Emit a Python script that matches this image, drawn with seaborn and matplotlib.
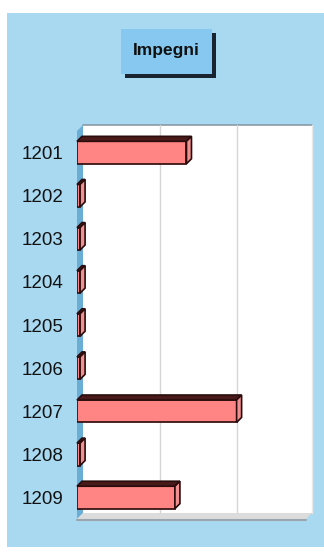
import matplotlib
matplotlib.use("Agg")
import matplotlib.pyplot as plt
from matplotlib.patches import Rectangle, Polygon
import seaborn as sns
import pandas as pd

codes = ["1201", "1202", "1203", "1204", "1205", "1206", "1207", "1208", "1209"]
impegni = [142, 4, 4, 4, 4, 4, 207, 4, 127]
title = "Impegni"

sns.set_theme(style="white")
plt.rcParams["font.family"] = ["Liberation Sans", "DejaVu Sans"]

W, H = 324, 552
fig = plt.figure(figsize=(W / 100, H / 100), dpi=100, facecolor="white")

def fx(px):
    return px / W

def fy(py):
    return 1 - py / H

# light blue panel behind everything
bg = fig.add_axes([0, 0, 1, 1], zorder=0)
bg.set_xlim(0, W)
bg.set_ylim(H, 0)
bg.axis("off")
bg.add_patch(Rectangle((7, 13), W - 7, 534, facecolor="#a9d9f1", edgecolor="none"))

# depth of the 3D effect in pixels
dx, dy = 6, 6
left, right, top, bottom = 77, 306, 131, 519

# back wall, left wall and floor
bg.add_patch(Rectangle((left + dx, top - dy), right - left, bottom - top,
                       facecolor="white", edgecolor="none"))
bg.add_patch(Polygon([(left, top), (left + dx, top - dy), (left + dx, bottom - dy),
                      (left, bottom)], closed=True, facecolor="#6aaed6", edgecolor="none"))
bg.add_patch(Polygon([(left, bottom), (left + dx, bottom - dy), (right + dx, bottom - dy),
                      (right, bottom)], closed=True, facecolor="#dcdcdc", edgecolor="none"))
bg.plot([left + dx, right + dx], [top - dy, top - dy], color="#8a9aa6", lw=1.2)
bg.plot([left, right], [bottom + 1, bottom + 1], color="#9aa6ae", lw=1.5)
bg.plot([right + dx, right + dx], [top - dy, bottom - dy], color="#e8e8e8", lw=1)

# title box with shadow
bg.add_patch(Rectangle((125, 33), 91, 45, facecolor="#1a2430", edgecolor="none", zorder=2))
bg.add_patch(Rectangle((121, 29), 91, 45, facecolor="#86c8f0", edgecolor="none", zorder=3))
bg.text(166.5, 51, title, ha="center", va="center", fontsize=12.5, fontweight="bold",
        color="#111111", zorder=4)

# bar chart on the front plane
ax = fig.add_axes([fx(left), fy(bottom), fx(right) - fx(left), fy(top) - fy(bottom)],
                  zorder=1)
ax.patch.set_alpha(0)
df = pd.DataFrame({"code": codes, "value": impegni})
sns.barplot(data=df, x="value", y="code", orient="h", ax=ax, color="#ff8484",
            saturation=1, width=0.52, edgecolor="#3a1414", linewidth=1.3)
ax.set_xlim(0, 297)
ax.set_ylim(len(codes) - 0.5, -0.5)
ax.set_xlabel("")
ax.set_ylabel("")
ax.set_xticks([])
for s in ax.spines.values():
    s.set_visible(False)
ax.tick_params(axis="y", length=0, pad=10, labelsize=13.5, labelcolor="#111111")

# grid lines on the back wall
for gv in (100, 200):
    gx = left + gv / 297 * (right - left) + dx
    bg.plot([gx, gx], [top - dy, bottom - dy], color="#d6d6d6", lw=1)

# extrude each bar: top face and end face
fig.canvas.draw()
tr = ax.transData
for p in ax.patches:
    x0, y0 = p.get_x(), p.get_y()
    w, h = p.get_width(), p.get_height()
    (px0, py0) = tr.transform((x0, y0))
    (px1, py1) = tr.transform((x0 + w, y0 + h))
    X0, X1 = px0, px1
    Yt, Yb = max(py0, py1), min(py0, py1)
    d = 5
    topface = Polygon([(X0, Yt), (X0 + d, Yt + d), (X1 + d, Yt + d), (X1, Yt)],
                      closed=True, facecolor="#4a1a1a", edgecolor="#2a0c0c", lw=1.2,
                      transform=None, zorder=1.5)
    endface = Polygon([(X1, Yt), (X1 + d, Yt + d), (X1 + d, Yb + d), (X1, Yb)],
                      closed=True, facecolor="#f09090", edgecolor="#2a0c0c", lw=1.2,
                      transform=None, zorder=1.5)
    fig.add_artist(topface)
    fig.add_artist(endface)

fig.savefig("out.png", dpi=100, facecolor="white")
